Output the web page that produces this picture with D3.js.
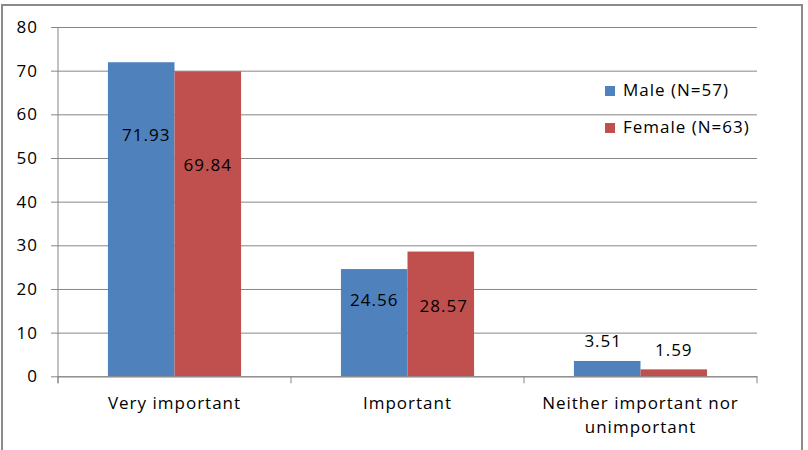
<!DOCTYPE html>
<html>
<head>
<meta charset="utf-8">
<script src="https://cdn.jsdelivr.net/npm/d3@7"></script>
<style>
  body { margin: 0; background: #fff; }
  text { font-family: "Open Sans", sans-serif; fill: #000; letter-spacing: 1px; }
</style>
</head>
<body>
<script>
var categories = ["Very important", "Important", "Neither important nor unimportant"];
var seriesNames = ["Male (N=57)", "Female (N=63)"];
var male = [71.93, 24.56, 3.51];
var female = [69.84, 28.57, 1.59];
var yTicks = [0, 10, 20, 30, 40, 50, 60, 70, 80];
// label nudges from the bar top / bar centre, in px (labels were hand placed in the original)
var maleLabelDy = [79, 37, -14];
var femaleLabelDy = [100, 60, -13];
var maleLabelDx = [5, 0, -4];
var femaleLabelDx = [0, 3, 0];

var colors = ["#4F81BD", "#C0504D"];
var grid = "#868686";
var fontSize = 17;

var width = 808, height = 450;
var plotLeft = 58, plotRight = 757, plotTop = 27, plotBottom = 376.3;

var svg = d3.select("body").append("svg")
    .attr("width", width)
    .attr("height", height);

// outer chart border
svg.append("rect")
    .attr("x", 2).attr("y", 5)
    .attr("width", 800).attr("height", 460)
    .attr("fill", "#fff")
    .attr("stroke", "#8a8a8a")
    .attr("stroke-width", 2);

var yScale = d3.scaleLinear().domain([0, 80]).range([plotBottom, plotTop]);
var xScale = d3.scaleBand().domain(categories).range([plotLeft, plotRight]).paddingInner(0).paddingOuter(0);
var inner = d3.scaleBand().domain([0, 1]).range([0, xScale.bandwidth()]).paddingOuter(0.75).paddingInner(0);

// gridlines + y ticks
var yAxis = d3.axisLeft(yScale).tickValues(yTicks).tickSize(-(plotRight - plotLeft) - 7).tickPadding(13);
var gy = svg.append("g")
    .attr("transform", "translate(" + (plotLeft - 7) + ",0)")
    .call(yAxis);
gy.select(".domain").remove();
gy.selectAll(".tick line").attr("stroke", grid);
gy.selectAll(".tick text").attr("font-size", fontSize).attr("font-family", null);

// y axis line
svg.append("line")
    .attr("x1", plotLeft).attr("x2", plotLeft)
    .attr("y1", yScale(80)).attr("y2", plotBottom + 7)
    .attr("stroke", grid);

// bars
var rows = categories.map(function(c, i) { return [male[i], female[i]]; });
var groups = svg.selectAll(".grp")
    .data(rows)
    .enter().append("g")
    .attr("class", "grp")
    .attr("transform", function(d, i) { return "translate(" + xScale(categories[i]) + ",0)"; });

groups.selectAll("rect")
    .data(function(d) { return d; })
    .enter().append("rect")
    .attr("x", function(d, j) { return inner(j); })
    .attr("width", inner.bandwidth())
    .attr("y", function(d) { return yScale(d); })
    .attr("height", function(d) { return plotBottom - yScale(d); })
    .attr("fill", function(d, j) { return colors[j]; });

// x axis
var xAxis = d3.axisBottom(xScale).tickSize(0).tickFormat("");
svg.append("g")
    .attr("transform", "translate(0," + plotBottom + ")")
    .call(xAxis)
    .select(".domain").attr("stroke", grid);

// category tick marks at band edges
var edges = categories.map(function(c) { return xScale(c); }).concat([plotRight]);
svg.selectAll(".ctick")
    .data(edges)
    .enter().append("line")
    .attr("x1", function(d) { return d; }).attr("x2", function(d) { return d; })
    .attr("y1", plotBottom).attr("y2", plotBottom + 7)
    .attr("stroke", grid);

// category labels (wrap the long one)
var catLines = [["Very important"], ["Important"], ["Neither important nor", "unimportant"]];
categories.forEach(function(c, i) {
    var cx = xScale(c) + xScale.bandwidth() / 2;
    var t = svg.append("text")
        .attr("x", cx)
        .attr("y", 409)
        .attr("text-anchor", "middle")
        .attr("font-size", fontSize);
    catLines[i].forEach(function(line, k) {
        t.append("tspan")
            .attr("x", cx)
            .attr("dy", k === 0 ? 0 : 24)
            .text(line);
    });
});

// data labels
[male, female].forEach(function(series, j) {
    var dys = j === 0 ? maleLabelDy : femaleLabelDy;
    var dxs = j === 0 ? maleLabelDx : femaleLabelDx;
    series.forEach(function(v, i) {
        svg.append("text")
            .attr("x", xScale(categories[i]) + inner(j) + inner.bandwidth() / 2 + dxs[i])
            .attr("y", yScale(v) + dys[i])
            .attr("text-anchor", "middle")
            .attr("font-size", fontSize)
            .text(v.toFixed(2));
    });
});

// legend
var legend = svg.append("g").attr("transform", "translate(605,86)");
seriesNames.forEach(function(name, j) {
    legend.append("rect")
        .attr("x", 0).attr("y", j * 37)
        .attr("width", 10).attr("height", 10)
        .attr("fill", colors[j]);
    legend.append("text")
        .attr("x", 18).attr("y", j * 37 + 10)
        .attr("font-size", fontSize)
        .text(name);
});
</script>
</body>
</html>
